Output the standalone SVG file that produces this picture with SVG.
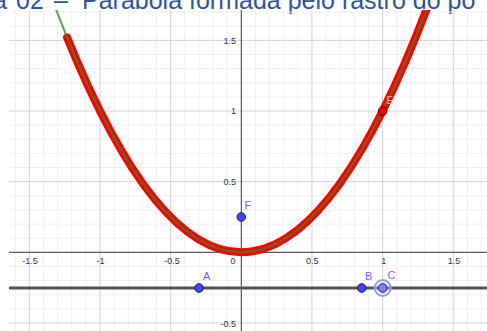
<svg xmlns="http://www.w3.org/2000/svg" width="487" height="331" viewBox="0 0 487 331">
<style>
.minor{stroke:#efefef;stroke-width:1;fill:none}
.major{stroke:#d2d2d2;stroke-width:1;fill:none}
.axis{stroke:#333;stroke-width:1;fill:none}
.tick{font-family:"Liberation Sans",Arial,sans-serif;font-size:9px;fill:#333}
.lbl{font-family:"Liberation Sans",Arial,sans-serif;font-size:11px;fill:#6666ff}
.pt{fill:#4444ff;stroke:#1a1a4d;stroke-width:1}
</style>
<defs>
<clipPath id="plot"><rect x="9" y="10" width="478" height="321"/></clipPath>
</defs>
<rect width="487" height="331" fill="#fff"/>
<text y="8.5" font-family="'Liberation Sans',Arial,sans-serif" font-size="25" fill="#2f5597"><tspan x="-7">a</tspan><tspan x="16">02</tspan><tspan x="54">–</tspan><tspan x="82">Parábola formada pelo rastro do po</tspan></text>
<g id="grid">
<path class="minor" d="M15.22 10V331M43.48 10V331M57.61 10V331M71.74 10V331M85.87 10V331M114.13 10V331M128.26 10V331M142.39 10V331M156.52 10V331M184.78 10V331M198.91 10V331M213.04 10V331M227.17 10V331M255.43 10V331M269.56 10V331M283.69 10V331M297.82 10V331M326.08 10V331M340.21 10V331M354.34 10V331M368.47 10V331M396.73 10V331M410.86 10V331M424.99 10V331M439.12 10V331M467.38 10V331M481.51 10V331M9 308.82H487M9 294.69H487M9 280.56H487M9 266.43H487M9 238.17H487M9 224.04H487M9 209.91H487M9 195.78H487M9 167.52H487M9 153.39H487M9 139.26H487M9 125.13H487M9 96.87H487M9 82.74H487M9 68.61H487M9 54.48H487M9 26.22H487M9 12.09H487"/>
<path class="major" d="M29.35 10V331M100 10V331M170.65 10V331M311.95 10V331M382.6 10V331M453.25 10V331M9 322.95H487M9 181.65H487M9 111H487M9 40.35H487"/>
<path class="axis" d="M241.3 10V331M9 252.3H487"/>
</g>
<g id="ticklabels" class="tick">
<text x="236" y="43.5" text-anchor="end">1.5</text>
<text x="236" y="114" text-anchor="end">1</text>
<text x="236" y="185" text-anchor="end">0.5</text>
<text x="236" y="327" text-anchor="end">-0.5</text>
<text x="30" y="264" text-anchor="middle">-1.5</text>
<text x="100.5" y="264" text-anchor="middle">-1</text>
<text x="172" y="264" text-anchor="middle">-0.5</text>
<text x="233" y="264" text-anchor="middle">0</text>
<text x="312.3" y="264" text-anchor="middle">0.5</text>
<text x="383.7" y="264" text-anchor="middle">1</text>
<text x="454" y="264" text-anchor="middle">1.5</text>
</g>
<g id="connectors" clip-path="url(#plot)">
<path id="trace" d="M67.08 37.48Q253.1 496.21 439.12 -24.65" fill="none" stroke="#ff0000" stroke-width="8" stroke-linecap="round"/>
<path id="parabola" d="M43.48 -24.65Q241.3 529.25 439.12 -24.65" fill="none" stroke="#2e8b2e" stroke-width="2" stroke-opacity="0.8"/>
<path id="directrix" d="M9 288H487" stroke="#8a8a8a" stroke-width="3.5"/>
<path d="M9 288H487" stroke="#404040" stroke-width="1.5"/>
</g>
<g id="A"><circle class="pt" cx="199" cy="288" r="4.3"/><text class="lbl" x="203" y="280">A</text></g>
<g id="B"><circle class="pt" cx="361.7" cy="288" r="4.3"/><text class="lbl" x="365" y="280">B</text></g>
<g id="C"><circle cx="382.7" cy="288" r="8" fill="#ccccff" fill-opacity="0.4" stroke="#9999ff" stroke-width="2"/><circle cx="382.7" cy="288" r="4.3" fill="#8080ff" stroke="#1a1a4d" stroke-width="1"/><text class="lbl" x="387.5" y="279" fill="#9999ff">C</text></g>
<g id="F"><circle class="pt" cx="241.3" cy="217" r="4.3"/><text class="lbl" x="244.5" y="208.5">F</text></g>
<g id="E"><circle cx="382.7" cy="111" r="4.3" fill="#ff0000" stroke="#400000" stroke-width="1"/><text x="386.5" y="104" font-family="'Liberation Sans',Arial,sans-serif" font-size="10" fill="#ffb3b3">E</text></g>
</svg>
